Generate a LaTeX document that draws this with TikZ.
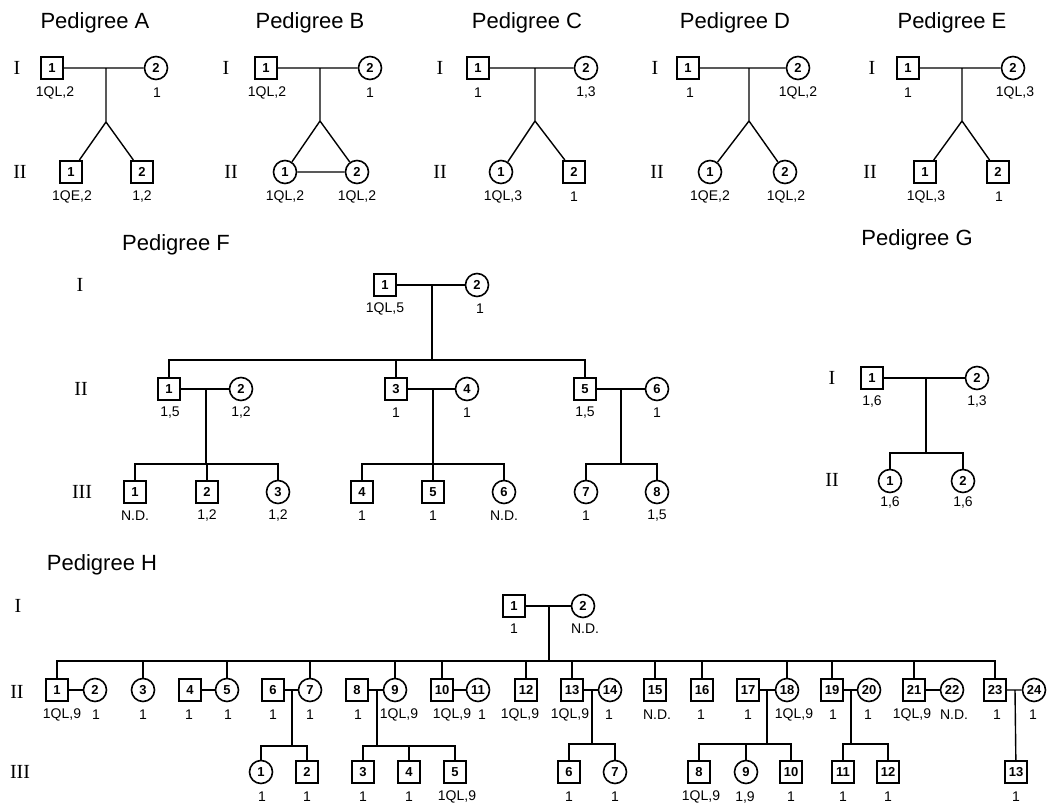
\documentclass[tikz,border=0pt]{standalone}
\usepackage{fontspec}
\setmainfont{Liberation Serif}
\setsansfont{Liberation Sans}
\newcommand\pS[4]{\node[sq] (#1) at (#2,#3) {#4};}
\newcommand\pC[4]{\node[ci] (#1) at (#2,#3) {#4};}
\newcommand\pL[4]{\node[lab] (#1) at (#2,#3) {#4};}
\newcommand\pR[4]{\node[rom] (#1) at (#2,#3) {#4};}
\newcommand\pT[4]{\node[ttl] (#1) at (#2,#3) {#4};}
\tikzset{
 sq/.style={draw, rectangle, minimum size=22.5pt, inner sep=0pt, line width=1.6pt, font=\sffamily\bfseries\fontsize{13}{13}\selectfont},
 ci/.style={draw, circle, minimum size=23pt, inner sep=0pt, line width=1.6pt, font=\sffamily\bfseries\fontsize{13}{13}\selectfont},
 lab/.style={inner sep=0pt, font=\sffamily\fontsize{14}{14}\selectfont},
 rom/.style={inner sep=0pt, font=\rmfamily\fontsize{20}{20}\selectfont},
 ttl/.style={inner sep=0pt, font=\sffamily\fontsize{22}{22}\selectfont},
 ln/.style={line width=1.4pt},
}
\begin{document}
\begin{tikzpicture}[x=1pt,y=-1pt]
\useasboundingbox[fill=white] (0,0) rectangle (1051,805);
% ---------------- top row ----------------
\pT{tA}{95}{23}{Pedigree A}
\pT{tB}{310}{23}{Pedigree B}
\pT{tC}{527}{23}{Pedigree C}
\pT{tD}{735}{23}{Pedigree D}
\pT{tE}{952}{23}{Pedigree E}
\pR{rAI}{17}{68}{I}   \pR{rAII}{20}{172}{II}
\pR{rBI}{226}{68}{I}  \pR{rBII}{231}{172}{II}
\pR{rCI}{440}{68}{I}  \pR{rCII}{440}{172}{II}
\pR{rDI}{655}{68}{I}  \pR{rDII}{657}{172}{II}
\pR{rEI}{872}{68}{I}  \pR{rEII}{870}{172}{II}
% A
\pS{A1}{52}{68}{1} \pC{A2}{156}{68}{2}
\pL{lA1}{55}{93}{1QL,2} \pL{lA2}{157}{93}{1}
\pS{Aa}{71}{172}{1} \pS{Ab}{142}{172}{2}
\pL{lAa}{72}{197}{1QE,2} \pL{lAb}{142}{197}{1,2}
\coordinate (Am) at (106,68); \coordinate (Af) at (106,122);
\draw[ln] (A1) -- (A2) (Am) -- (Af) (Af) -- (Aa) (Af) -- (Ab);
% B
\pS{B1}{266}{68}{1} \pC{B2}{370}{68}{2}
\pL{lB1}{267}{93}{1QL,2} \pL{lB2}{370}{93}{1}
\pC{Ba}{285}{172}{1} \pC{Bb}{357}{172}{2}
\pL{lBa}{285}{197}{1QL,2} \pL{lBb}{357}{197}{1QL,2}
\coordinate (Bm) at (320,68); \coordinate (Bf) at (320,121);
\draw[ln] (B1) -- (B2) (Bm) -- (Bf) (Bf) -- (Ba) (Bf) -- (Bb) (Ba) -- (Bb);
% C
\pS{C1}{478}{68}{1} \pC{C2}{586}{68}{2}
\pL{lC1}{478}{93}{1} \pL{lC2}{586}{93}{1,3}
\pC{Ca}{501}{172}{1} \pS{Cb}{574}{172}{2}
\pL{lCa}{503}{197}{1QL,3} \pL{lCb}{574}{197}{1}
\coordinate (Cm) at (535,68); \coordinate (Cf) at (535,121);
\draw[ln] (C1) -- (C2) (Cm) -- (Cf) (Cf) -- (Ca) (Cf) -- (Cb);
% D
\pS{D1}{688}{68}{1} \pC{D2}{798}{68}{2}
\pL{lD1}{690}{93}{1} \pL{lD2}{798}{93}{1QL,2}
\pC{Da}{710}{172}{1} \pC{Db}{785}{172}{2}
\pL{lDa}{710}{197}{1QE,2} \pL{lDb}{786}{197}{1QL,2}
\coordinate (Dm) at (749,68); \coordinate (Df) at (749,121);
\draw[ln] (D1) -- (D2) (Dm) -- (Df) (Df) -- (Da) (Df) -- (Db);
% E
\pS{E1}{908}{68}{1} \pC{E2}{1013}{68}{2}
\pL{lE1}{908}{93}{1} \pL{lE2}{1015}{93}{1QL,3}
\pS{Ea}{925}{172}{1} \pS{Eb}{998}{172}{2}
\pL{lEa}{926}{197}{1QL,3} \pL{lEb}{999}{197}{1}
\coordinate (Em) at (962,68); \coordinate (Ef) at (962,121);
\draw[ln] (E1) -- (E2) (Em) -- (Ef) (Ef) -- (Ea) (Ef) -- (Eb);
% ---------------- Pedigree F ----------------
\pT{tF}{176}{245}{Pedigree F}
\pR{rFI}{80}{285}{I} \pR{rFII}{81}{389}{II} \pR{rFIII}{82}{492}{III}
\pS{F1}{385}{285}{1} \pC{F2}{477}{285}{2}
\pL{lF1}{385}{309}{1QL,5} \pL{lF2}{480}{309}{1}
\coordinate (Fm) at (432,285); \coordinate (Fs) at (432,360);
\pS{Fb1}{169}{389}{1} \pC{Fb2}{241}{389}{2}
\pS{Fb3}{396}{389}{3} \pC{Fb4}{467}{389}{4}
\pS{Fb5}{585}{389}{5} \pC{Fb6}{657}{389}{6}
\pL{lFb1}{170}{413}{1,5} \pL{lFb2}{241}{413}{1,2}
\pL{lFb3}{396}{413}{1} \pL{lFb4}{467}{413}{1}
\pL{lFb5}{585}{413}{1,5} \pL{lFb6}{657}{413}{1}
\draw[ln] (F1) -- (F2) (Fm) -- (Fs) (Fb1) |- (Fs) -| (Fb5) (Fb3) -- (Fb3 |- Fs);
\coordinate (F12m) at (206,389); \coordinate (F12s) at (206,464);
\coordinate (F34m) at (433,389); \coordinate (F34s) at (433,464);
\coordinate (F56m) at (621,389); \coordinate (F56s) at (621,464);
\pS{Fc1}{135}{492}{1} \pS{Fc2}{207}{492}{2} \pC{Fc3}{278}{492}{3}
\pS{Fc4}{362}{492}{4} \pS{Fc5}{433}{492}{5} \pC{Fc6}{504}{492}{6}
\pC{Fc7}{586}{492}{7} \pC{Fc8}{657}{492}{8}
\pL{lFc1}{135}{516}{N.D.} \pL{lFc2}{207}{516}{1,2} \pL{lFc3}{278}{516}{1,2}
\pL{lFc4}{362}{516}{1} \pL{lFc5}{433}{516}{1} \pL{lFc6}{504}{516}{N.D.}
\pL{lFc7}{586}{516}{1} \pL{lFc8}{657}{516}{1,5}
\draw[ln] (Fb1) -- (Fb2) (F12m) -- (F12s) (Fc1) |- (F12s) -| (Fc3) (Fc2) -- (Fc2 |- F12s);
\draw[ln] (Fb3) -- (Fb4) (F34m) -- (F34s) (Fc4) |- (F34s) -| (Fc6) (Fc5) -- (Fc5 |- F34s);
\draw[ln] (Fb5) -- (Fb6) (F56m) -- (F56s) (Fc7) |- (F56s) -| (Fc8);
% ---------------- Pedigree G ----------------
\pT{tG}{917}{240}{Pedigree G}
\pR{rGI}{832}{378}{I} \pR{rGII}{832}{480}{II}
\pS{G1}{872}{378}{1} \pC{G2}{977}{378}{2}
\pL{lG1}{872}{402}{1,6} \pL{lG2}{977}{402}{1,3}
\pC{Ga}{890}{481}{1} \pC{Gb}{963}{481}{2}
\pL{lGa}{890}{503}{1,6} \pL{lGb}{963}{503}{1,6}
\coordinate (Gm) at (926,378); \coordinate (Gs) at (926,453);
\draw[ln] (G1) -- (G2) (Gm) -- (Gs) (Ga) |- (Gs) -| (Gb);
% ---------------- Pedigree H ----------------
\pT{tH}{102}{565}{Pedigree H}
\pR{rHI}{18}{606}{I} \pR{rHII}{17}{692}{II} \pR{rHIII}{20}{772}{III}
\pS{H1}{514}{606}{1} \pC{H2}{583}{606}{2}
\pL{lH1}{514}{629}{1} \pL{lH2}{585}{629}{N.D.}
\coordinate (Hm) at (549,606); \coordinate (Hs) at (549,661);
% generation II
\pS{Hb1}{57}{690}{1}   \pC{Hb2}{95}{690}{2}
\pC{Hb3}{143}{690}{3}
\pS{Hb4}{190}{690}{4}  \pC{Hb5}{227}{690}{5}
\pS{Hb6}{273}{690}{6}  \pC{Hb7}{310}{690}{7}
\pS{Hb8}{357}{690}{8}  \pC{Hb9}{395}{690}{9}
\pS{Hb10}{442}{690}{10} \pC{Hb11}{478}{690}{11}
\pS{Hb12}{526}{690}{12}
\pS{Hb13}{572}{690}{13} \pC{Hb14}{610}{690}{14}
\pS{Hb15}{655}{690}{15}
\pS{Hb16}{702}{690}{16}
\pS{Hb17}{748}{690}{17} \pC{Hb18}{787}{690}{18}
\pS{Hb19}{832}{690}{19} \pC{Hb20}{869}{690}{20}
\pS{Hb21}{914}{690}{21} \pC{Hb22}{952}{690}{22}
\pS{Hb23}{995}{690}{23} \pC{Hb24}{1034}{690}{24}
\pL{lHb1}{62}{715}{1QL,9} \pL{lHb2}{96}{715}{1} \pL{lHb3}{143}{715}{1}
\pL{lHb4}{189}{715}{1} \pL{lHb5}{228}{715}{1} \pL{lHb6}{273}{715}{1}
\pL{lHb7}{310}{715}{1} \pL{lHb8}{358}{715}{1} \pL{lHb9}{399}{715}{1QL,9}
\pL{lHb10}{452}{715}{1QL,9} \pL{lHb11}{482}{715}{1} \pL{lHb12}{520}{715}{1QL,9}
\pL{lHb13}{570}{715}{1QL,9} \pL{lHb14}{609}{715}{1} \pL{lHb15}{657}{715}{N.D.}
\pL{lHb16}{701}{715}{1} \pL{lHb17}{748}{715}{1} \pL{lHb18}{794}{715}{1QL,9}
\pL{lHb19}{833}{715}{1} \pL{lHb20}{868}{715}{1} \pL{lHb21}{912}{715}{1QL,9}
\pL{lHb22}{954}{715}{N.D.} \pL{lHb23}{997}{715}{1} \pL{lHb24}{1033}{715}{1}
\draw[ln] (H1) -- (H2) (Hm) -- (Hs) (Hb1) |- (Hs) -| (Hb23);
\foreach \n in {3,5,7,9,10,12,13,15,16,18,19,21} {\draw[ln] (Hb\n) -- (Hb\n |- Hs);}
\draw[ln] (Hb1) -- (Hb2) (Hb4) -- (Hb5) (Hb10) -- (Hb11) (Hb21) -- (Hb22);
% generation III
\pC{Hc1}{261}{772}{1} \pS{Hc2}{307}{772}{2}
\pS{Hc3}{363}{772}{3} \pS{Hc4}{409}{772}{4} \pS{Hc5}{455}{772}{5}
\pS{Hc6}{569}{772}{6} \pC{Hc7}{615}{772}{7}
\pS{Hc8}{699}{772}{8} \pC{Hc9}{746}{772}{9} \pS{Hc10}{791}{772}{10}
\pS{Hc11}{843}{772}{11} \pS{Hc12}{888}{772}{12}
\pS{Hc13}{1016}{772}{13}
\pL{lHc1}{262}{797}{1} \pL{lHc2}{307}{797}{1} \pL{lHc3}{363}{797}{1}
\pL{lHc4}{409}{797}{1} \pL{lHc5}{457}{797}{1QL,9} \pL{lHc6}{569}{797}{1}
\pL{lHc7}{615}{797}{1} \pL{lHc8}{701}{797}{1QL,9} \pL{lHc9}{745}{797}{1,9}
\pL{lHc10}{791}{797}{1} \pL{lHc11}{843}{797}{1} \pL{lHc12}{888}{797}{1}
\pL{lHc13}{1016}{797}{1}
\coordinate (H67m) at (292,690); \coordinate (H67s) at (292,746);
\coordinate (H89m) at (377,690); \coordinate (H89s) at (377,746);
\coordinate (H1314m) at (592,690); \coordinate (H1314s) at (592,744);
\coordinate (H1718m) at (767,690); \coordinate (H1718s) at (767,744);
\coordinate (H1920m) at (851,690); \coordinate (H1920s) at (851,744);
\coordinate (H2324m) at (1015,690);
\draw[ln] (Hb6) -- (Hb7) (H67m) -- (H67s) (Hc1) |- (H67s) -| (Hc2);
\draw[ln] (Hb8) -- (Hb9) (H89m) -- (H89s) (Hc3) |- (H89s) -| (Hc5) (Hc4) -- (Hc4 |- H89s);
\draw[ln] (Hb13) -- (Hb14) (H1314m) -- (H1314s) (Hc6) |- (H1314s) -| (Hc7);
\draw[ln] (Hb17) -- (Hb18) (H1718m) -- (H1718s) (Hc8) |- (H1718s) -| (Hc10) (Hc9) -- (Hc9 |- H1718s);
\draw[ln] (Hb19) -- (Hb20) (H1920m) -- (H1920s) (Hc11) |- (H1920s) -| (Hc12);
\draw[ln] (Hb23) -- (Hb24) (H2324m) -- (Hc13);
\end{tikzpicture}
\end{document}
